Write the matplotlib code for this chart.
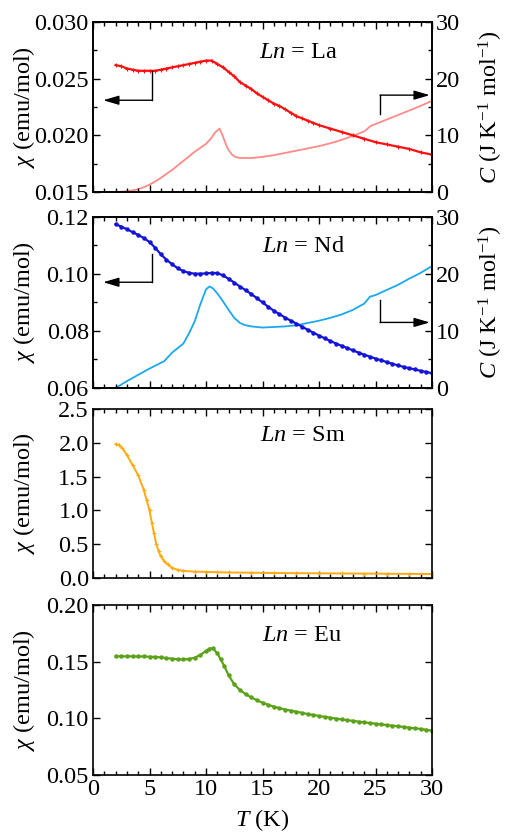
"""Susceptibility and heat capacity of Ln compounds, four stacked panels"""
import matplotlib
matplotlib.use('Agg')
import matplotlib.pyplot as plt
from matplotlib.ticker import MultipleLocator, FormatStrFormatter

plt.rcParams['font.family'] = ['Liberation Serif', 'DejaVu Serif']
plt.rcParams['mathtext.fontset'] = 'custom'
plt.rcParams['mathtext.rm'] = 'Liberation Serif'
plt.rcParams['mathtext.it'] = 'Liberation Serif:italic'
plt.rcParams['axes.linewidth'] = 1.2

FS = 17.5

# ---- La ----
la_chi_T = [2, 2.5, 3, 3.5, 4, 4.5, 5, 5.5, 6, 6.5, 7, 7.5, 8, 8.5, 9, 9.5, 10, 10.5,
            11, 11.5, 12, 12.5, 13, 13.5, 14, 14.5, 15, 15.5, 16, 16.5, 17, 17.5, 18,
            18.5, 19, 19.5, 20, 21, 22, 23, 24, 25, 26, 27, 28, 29, 30]
la_chi = [0.0262, 0.0261, 0.0259, 0.0258, 0.0257, 0.0257, 0.0257, 0.0257, 0.0258,
          0.0259, 0.0260, 0.0261, 0.0262, 0.0263, 0.0264, 0.0265, 0.0266, 0.0266,
          0.0263, 0.0260, 0.0256, 0.0252, 0.0247, 0.0244, 0.0241, 0.0237, 0.0234,
          0.0231, 0.0228, 0.0226, 0.0223, 0.0220, 0.0217, 0.0215, 0.0213, 0.0211,
          0.0209, 0.0206, 0.0203, 0.0200, 0.0197, 0.0194, 0.0192, 0.0190, 0.0188,
          0.0185, 0.0183]
la_C_T = [2, 2.5, 3, 3.5, 4, 4.5, 5, 5.5, 6, 6.5, 7, 7.5, 8, 8.5, 9, 9.5, 10, 10.5,
          10.8, 11.2, 11.5, 11.8, 12, 12.3, 12.6, 13, 14, 15, 16, 17, 18, 19, 20, 21,
          22, 23, 24, 24.3, 24.6, 25, 26, 27, 28, 29, 30]
la_C = [0.0, 0.05, 0.15, 0.3, 0.5, 0.85, 1.3, 1.85, 2.5, 3.2, 3.9, 4.7, 5.5, 6.3, 7.1,
        7.8, 8.5, 9.6, 10.5, 11.2, 9.8, 8.2, 7.4, 6.6, 6.2, 6.0, 6.0, 6.2, 6.5, 6.9,
        7.3, 7.7, 8.1, 8.6, 9.2, 9.9, 10.7, 11.2, 11.7, 12.0, 12.8, 13.6, 14.4, 15.2,
        16.1]

# ---- Nd ----
nd_chi_T = [2, 2.5, 3, 3.5, 4, 4.5, 5, 5.5, 6, 6.5, 7, 7.5, 8, 8.5, 9, 9.5, 10, 10.5,
            11, 11.5, 12, 12.5, 13, 13.5, 14, 14.5, 15, 15.5, 16, 16.5, 17, 17.5, 18,
            18.5, 19, 19.5, 20, 20.5, 21, 21.5, 22, 22.5, 23, 23.5, 24, 24.5, 25, 25.5,
            26, 26.5, 27, 27.5, 28, 28.5, 29, 29.5, 30]
nd_chi = [0.1175, 0.1166, 0.1157, 0.1147, 0.1137, 0.1126, 0.1112, 0.1092, 0.1069,
          0.1050, 0.1034, 0.1020, 0.1010, 0.1004, 0.1001, 0.1001, 0.1002, 0.1004,
          0.1003, 0.0995, 0.0983, 0.0970, 0.0956, 0.0943, 0.0930, 0.0915, 0.0900,
          0.0885, 0.0871, 0.0859, 0.0847, 0.0836, 0.0826, 0.0815, 0.0804, 0.0794,
          0.0784, 0.0774, 0.0765, 0.0756, 0.0748, 0.0740, 0.0732, 0.0724, 0.0717,
          0.0710, 0.0703, 0.0697, 0.0691, 0.0685, 0.0679, 0.0674, 0.0669, 0.0665,
          0.0660, 0.0656, 0.0652]
nd_C_T = [2, 3, 4, 5, 6, 6.3, 7, 7.5, 8, 8.5, 9, 9.5, 10, 10.3, 10.6, 11, 11.5, 12,
          12.5, 13, 13.5, 14, 15, 16, 17, 18, 19, 20, 21, 22, 23, 24, 24.5, 25, 26, 27,
          28, 29, 30]
nd_C = [0.0, 1.2, 2.3, 3.4, 4.4, 4.7, 6.2, 7.0, 7.8, 9.6, 11.7, 14.7, 17.3, 17.8,
        17.5, 16.6, 15.2, 13.7, 12.3, 11.4, 11.0, 10.8, 10.6, 10.7, 10.8, 11.0, 11.4,
        11.8, 12.3, 12.9, 13.7, 14.8, 16.0, 16.3, 17.2, 18.1, 19.2, 20.2, 21.4]

# ---- Sm ----
sm_T = [2, 2.3, 2.6, 3, 3.5, 4, 4.5, 4.75, 5, 5.2, 5.4, 5.6, 5.8, 6, 6.3, 6.6, 7, 7.5,
        8, 9, 10, 11, 12, 14, 16, 18, 20, 22, 24, 26, 28, 30]
sm_chi = [1.98, 1.97, 1.92, 1.82, 1.67, 1.52, 1.30, 1.15, 1.0, 0.82, 0.66, 0.50, 0.40,
          0.32, 0.25, 0.20, 0.15, 0.12, 0.105, 0.095, 0.09, 0.085, 0.082, 0.078, 0.074,
          0.071, 0.069, 0.067, 0.065, 0.063, 0.061, 0.058]

# ---- Eu ----
eu_T = [2, 2.5, 3, 3.5, 4, 4.5, 5, 5.5, 6, 6.5, 7, 7.5, 8, 8.5, 9, 9.5, 10, 10.3, 10.6,
        11, 11.3, 11.6, 12, 12.5, 13, 13.5, 14, 14.5, 15, 15.5, 16, 16.5, 17, 17.5, 18,
        18.5, 19, 19.5, 20, 20.5, 21, 21.5, 22, 22.5, 23, 23.5, 24, 24.5, 25, 25.5, 26,
        26.5, 27, 27.5, 28, 28.5, 29, 29.5, 30]
eu_chi = [0.1547, 0.1547, 0.1547, 0.1547, 0.1546, 0.1546, 0.1544, 0.1542, 0.1538,
          0.1532, 0.1526, 0.1522, 0.1520, 0.1524, 0.1535, 0.1560, 0.1595, 0.1615,
          0.1618, 0.1574, 0.1520, 0.1465, 0.1380, 0.1300, 0.1250, 0.1214, 0.1185,
          0.1160, 0.1138, 0.1120, 0.1103, 0.1090, 0.1078, 0.1068, 0.1059, 0.1048,
          0.1038, 0.1030, 0.1021, 0.1013, 0.1006, 0.0998, 0.0991, 0.0984, 0.0978,
          0.0971, 0.0965, 0.0959, 0.0953, 0.0947, 0.0941, 0.0935, 0.0930, 0.0924,
          0.0918, 0.0912, 0.0906, 0.0899, 0.0891]

# arrow guides: (start, corner, tip)
la_arrow_left = [(5.2, 0.0257), (5.2, 0.0231), (0.9, 0.0231)]
la_arrow_right = [(25.4, 13.7), (25.4, 17.1), (29.8, 17.1)]
nd_arrow_left = [(5.25, 0.1069), (5.25, 0.0971), (0.9, 0.0971)]
nd_arrow_right = [(25.4, 15.5), (25.4, 11.5), (29.8, 11.5)]

CHI_LABEL = r'$\chi$ (emu/mol)'
C_LABEL = r'$C$ (J K$^{-1}$ mol$^{-1}$)'


def style_axis(ax, right=True):
    ax.tick_params(which='both', direction='in', top=True, right=right,
                   labelsize=FS, width=1.0, pad=3)
    ax.tick_params(which='major', length=5)
    ax.tick_params(which='minor', length=3)
    ax.set_xlim(0, 30)
    ax.xaxis.set_major_locator(MultipleLocator(5))
    ax.xaxis.set_minor_locator(MultipleLocator(1))


def draw_arrow(ax, pts):
    (x0, y0), (x1, y1), (x2, y2) = pts
    ax.plot([x0, x1], [y0, y1], color='k', lw=1.0, clip_on=False)
    ax.annotate('', xy=(x2, y2), xytext=(x1, y1),
                arrowprops=dict(arrowstyle='-|>,head_length=0.95,head_width=0.28',
                                mutation_scale=10, color='k', lw=1.0,
                                shrinkA=0, shrinkB=0))


fig = plt.figure(figsize=(5.1, 8.32), dpi=100)
left, width = 0.1824, 0.6647
ax1 = fig.add_axes([left, 0.7692, width, 0.2043])
ax2 = fig.add_axes([left, 0.5337, width, 0.2055])
ax3 = fig.add_axes([left, 0.3053, width, 0.2031])
ax4 = fig.add_axes([left, 0.0685, width, 0.2043])

# panel La
ax1b = ax1.twinx()
ax1b.plot(la_C_T, la_C, color='#FF8A8A', lw=1.3)
ax1.plot(la_chi_T, la_chi, color='#FF1010', lw=1.6, marker='+', ms=3, mew=0.8)
ax1.set_zorder(ax1b.get_zorder() + 1)
ax1.patch.set_visible(False)
ax1.set_ylim(0.015, 0.030)
ax1.yaxis.set_major_locator(MultipleLocator(0.005))
ax1.yaxis.set_minor_locator(MultipleLocator(0.0025))
ax1.yaxis.set_major_formatter(FormatStrFormatter('%.3f'))
ax1b.set_ylim(0, 30)
ax1b.yaxis.set_major_locator(MultipleLocator(10))
ax1b.yaxis.set_minor_locator(MultipleLocator(5))
draw_arrow(ax1, la_arrow_left)
draw_arrow(ax1b, la_arrow_right)
ax1.text(0.605, 0.82, r'$Ln$ = La', transform=ax1.transAxes, ha='center',
         va='center', fontsize=FS)

# panel Nd
ax2b = ax2.twinx()
ax2b.plot(nd_C_T, nd_C, color='#1AA8F0', lw=1.3)
ax2.plot(nd_chi_T, nd_chi, color='#1414D8', lw=1.6, marker='o', ms=3.2, mew=0)
ax2.set_zorder(ax2b.get_zorder() + 1)
ax2.patch.set_visible(False)
ax2.set_ylim(0.06, 0.12)
ax2.yaxis.set_major_locator(MultipleLocator(0.02))
ax2.yaxis.set_minor_locator(MultipleLocator(0.01))
ax2.yaxis.set_major_formatter(FormatStrFormatter('%.2f'))
ax2b.set_ylim(0, 30)
ax2b.yaxis.set_major_locator(MultipleLocator(10))
ax2b.yaxis.set_minor_locator(MultipleLocator(5))
draw_arrow(ax2, nd_arrow_left)
draw_arrow(ax2b, nd_arrow_right)
ax2.text(0.62, 0.83, r'$Ln$ = Nd', transform=ax2.transAxes, ha='center',
         va='center', fontsize=FS)

# panel Sm
ax3.plot(sm_T, sm_chi, color='#FFAA10', lw=1.4, marker='+', ms=3, mew=0.8)
ax3.set_ylim(0, 2.5)
ax3.yaxis.set_major_locator(MultipleLocator(0.5))
ax3.yaxis.set_major_formatter(FormatStrFormatter('%.1f'))
ax3.text(0.62, 0.846, r'$Ln$ = Sm', transform=ax3.transAxes, ha='center',
         va='center', fontsize=FS)

# panel Eu
ax4.plot(eu_T, eu_chi, color='#5AA318', lw=1.6, marker='o', ms=3.2, mew=0)
ax4.set_ylim(0.05, 0.20)
ax4.yaxis.set_major_locator(MultipleLocator(0.05))
ax4.yaxis.set_major_formatter(FormatStrFormatter('%.2f'))
ax4.text(0.617, 0.82, r'$Ln$ = Eu', transform=ax4.transAxes, ha='center',
         va='center', fontsize=FS)

for ax in (ax1, ax2):
    style_axis(ax, right=False)
for ax in (ax3, ax4):
    style_axis(ax, right=True)
for axb in (ax1b, ax2b):
    axb.tick_params(which='both', direction='in', right=True, labelsize=FS,
                    width=1.0, pad=3)
    axb.tick_params(which='major', length=5)
    axb.tick_params(which='minor', length=3)
    axb.set_ylabel(C_LABEL, fontsize=FS)
    axb.yaxis.set_label_coords(1.133, 0.5)

for ax in (ax1, ax2, ax3):
    ax.tick_params(labelbottom=False)
for ax in (ax1, ax2, ax3, ax4):
    ax.set_ylabel(CHI_LABEL, fontsize=FS)
    ax.yaxis.set_label_coords(-0.165, 0.5)

ax4.set_xlabel(r'$T$ (K)', fontsize=FS)
ax4.xaxis.set_label_coords(0.5, -0.19)

fig.savefig('out.png', dpi=100)
plt.close('all')
